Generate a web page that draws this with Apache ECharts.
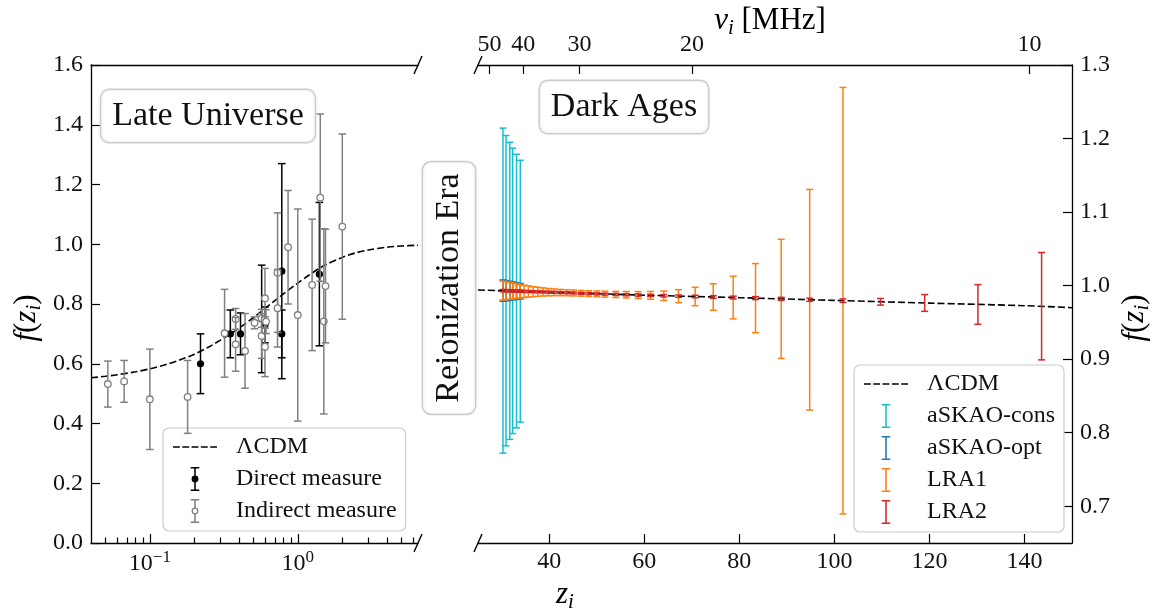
<!DOCTYPE html>
<html><head><meta charset="utf-8">
<script src="https://cdn.jsdelivr.net/npm/echarts@6/dist/echarts.min.js"></script>
<style>html,body{margin:0;padding:0;background:#fff}#c{width:1158px;height:614px}</style>
</head><body><div id="c"></div>
<script>
// ================= DATA =================
// Late-universe panel: LCDM growth-rate curve
const lcdmLateZ = [0.04,0.05,0.06,0.08,0.10,0.13,0.16,0.20,0.25,0.30,0.35,0.40,0.50,0.60,0.70,0.80,1.00,1.20,1.50,2.00,2.50,3.00,4.00,5.00,6.50];
const lcdmLateF = [0.553,0.558,0.563,0.573,0.583,0.598,0.613,0.632,0.656,0.679,0.700,0.719,0.754,0.785,0.811,0.834,0.870,0.898,0.928,0.956,0.972,0.981,0.990,0.994,0.997];
// Direct measures
const directZ   = [0.22,0.35,0.41,0.57,0.60,0.78,0.78,1.40];
const directF   = [0.60,0.70,0.70,0.75,0.73,0.91,0.70,0.90];
const directErr = [0.10,0.08,0.07,0.18,0.06,0.36,0.08,0.24];
// Indirect measures
const indirectZ   = [0.052,0.067,0.10,0.18,0.32,0.38,0.38,0.44,0.51,0.57,0.57,0.60,0.60,0.61,0.73,0.73,0.86,1.00,1.25,1.42,1.50,1.54,2.00];
const indirectF   = [0.532,0.541,0.481,0.489,0.702,0.750,0.665,0.643,0.737,0.752,0.693,0.819,0.657,0.741,0.905,0.786,0.990,0.763,0.864,1.156,0.742,0.860,1.059];
const indirectErr = [0.077,0.070,0.168,0.122,0.147,0.035,0.090,0.125,0.020,0.030,0.075,0.100,0.100,0.040,0.200,0.130,0.190,0.355,0.220,0.280,0.310,0.190,0.310];

// Dark-ages panel
const lcdmDarkZ = [25,40,60,80,100,120,140,150];
const lcdmDarkF = [0.9940,0.9911,0.9870,0.9836,0.9799,0.9762,0.9727,0.9700];
// frequency-bin redshifts and central values
const binZ = [30.25,30.9,31.7,32.3,33.1,33.9,34.7,35.6,36.6,37.6,38.7,39.8,41.0,42.3,43.7,45.1,46.7,48.3,50.0,51.7,54.0,56.2,58.7,61.3,64.1,67.2,70.7,74.5,78.7,83.4,88.8,94.8,101.8,109.7,119.0,130.2,143.6];
const binF = [0.9932,0.9931,0.9929,0.9928,0.9926,0.9924,0.9922,0.9920,0.9918,0.9916,0.9914,0.9911,0.9909,0.9906,0.9903,0.9900,0.9896,0.9892,0.9888,0.9884,0.9880,0.9876,0.9872,0.9867,0.9862,0.9857,0.9852,0.9845,0.9838,0.9830,0.9820,0.9808,0.9795,0.9780,0.9764,0.9744,0.9720];
const askaoConsErr = [0.221,0.211,0.202,0.194,0.186,0.178];
const askaoOptErr  = [0.0145,0.0138,0.0130,0.0122,0.0114,0.0106];
const lra1Err = [0.0128,0.0121,0.0113,0.0106,0.0099,0.0092,0.0084,0.0076,0.0068,0.0061,0.0055,0.0050,0.0046,0.0043,0.0041,0.0040,0.0039,0.0039,0.0040,0.0041,0.0042,0.0044,0.0047,0.0053,0.0064,0.0088,0.0125,0.018,0.029,0.047,0.081,0.150,0.290];
const lra2Err = [0.0015,0.0015,0.0015,0.0015,0.0015,0.0015,0.0013,0.0013,0.0013,0.0013,0.0013,0.0013,0.0013,0.0013,0.0013,0.0013,0.0013,0.0013,0.0013,0.0013,0.0014,0.0014,0.0015,0.0015,0.0016,0.0016,0.0017,0.0018,0.0019,0.0020,0.0021,0.0022,0.0024,0.0045,0.0114,0.027,0.073];

// tick labels
const leftYTicks   = [0,0.2,0.4,0.6,0.8,1.0,1.2,1.4,1.6];
const leftXMajor   = [0.1,1];
const leftXMinor   = [0.05,0.06,0.07,0.08,0.09,0.2,0.3,0.4,0.5,0.6,0.7,0.8,0.9,2,3,4,5,6];
const rightXTicks  = [40,60,80,100,120,140];
const rightYTicks  = [0.7,0.8,0.9,1.0,1.1,1.2,1.3];
const nuTicks      = [50,40,30,20,10];
const NU21 = 1420.4;
const nuTickZ = nuTicks.map(n => NU21 / n - 1);

// ================= CHART =================
const FONT = "'Liberation Serif','DejaVu Serif',serif";
const INK = '#111';
const chart = echarts.init(document.getElementById('c'), null, {renderer: 'canvas'});

function zip3(a, b, c, n) { const out = []; for (let i = 0; i < (n || a.length); i++) out.push([a[i], b[i], c[i]]); return out; }
function zip2(a, b) { return a.map((v, i) => [v, b[i]]); }

function errRender(o) {
  return function (params, api) {
    const x = api.value(0), y = api.value(1), e = api.value(2);
    const c = api.coord([x, y]);
    const t = api.coord([x, y + e]);
    const b = api.coord([x, y - e]);
    const st = {stroke: o.color, lineWidth: o.lw, fill: null};
    const ch = [
      {type: 'line', shape: {x1: c[0], y1: t[1], x2: c[0], y2: b[1]}, style: st},
      {type: 'line', shape: {x1: c[0] - o.cap, y1: t[1], x2: c[0] + o.cap, y2: t[1]}, style: st},
      {type: 'line', shape: {x1: c[0] - o.cap, y1: b[1], x2: c[0] + o.cap, y2: b[1]}, style: st}
    ];
    if (o.marker === 'filled') ch.push({type: 'circle', shape: {cx: c[0], cy: c[1], r: o.r}, style: {fill: o.color}});
    if (o.marker === 'hollow') ch.push({type: 'circle', shape: {cx: c[0], cy: c[1], r: o.r}, style: {fill: '#fff', stroke: o.color, lineWidth: 1.3}});
    return {type: 'group', children: ch};
  };
}

const ICON_DASH = 'path://M0 0H7V1.6H0Z M9.5 0H16.5V1.6H9.5Z M19 0H26V1.6H19Z M28.5 0H35.5V1.6H28.5Z M38 0H45V1.6H38Z';
const ICON_BAR = 'path://M0 0H10V1.8H5.9V26.2H10V28H0V26.2H4.1V1.8H0Z';
const ICON_DIRECT = ICON_BAR + ' M9 14A4 4 0 1 1 1 14A4 4 0 1 1 9 14Z';
const ICON_INDIRECT = 'path://M0 0H10V1.8H5.9V10H4.1V1.8H0Z M4.1 18H5.9V26.2H10V28H0V26.2H4.1Z M9 14A4 4 0 1 1 1 14A4 4 0 1 1 9 14Z M7.5 14A2.5 2.5 0 1 0 2.5 14A2.5 2.5 0 1 0 7.5 14Z';

const axLine = {show: true, onZero: false, lineStyle: {color: '#000', width: 1.3}};
const tickStyle = {color: '#000', width: 1.2};
const lblBase = {color: INK, fontFamily: FONT, fontSize: 24};
const nameRich = {
  it: {fontFamily: FONT, fontStyle: 'italic', fontSize: 31, color: INK, lineHeight: 36},
  r: {fontFamily: FONT, fontSize: 31, color: INK, lineHeight: 36},
  sub: {fontFamily: FONT, fontStyle: 'italic', fontSize: 21, color: INK, lineHeight: 24, verticalAlign: 'bottom'}
};
const fzName = '{it|f}{r|(}{it|z}{sub|i}{r|)}';
const supFmt = v => { const p = Math.round(Math.log10(v)); return '{b|10}{s|' + (p < 0 ? '\u2212' + (-p) : p) + '}'; };

const legendCommon = {
  orient: 'vertical', itemWidth: 44, itemHeight: 24, itemGap: 8,
  padding: [7, 9, 8, 10], backgroundColor: 'rgba(255,255,255,0.8)',
  borderColor: '#cccccc', borderWidth: 1.2, borderRadius: 6, selectedMode: false,
  textStyle: {fontFamily: FONT, fontSize: 24, color: INK, padding: [0, 0, 0, 14]}
};

const option = {
  animation: false,
  backgroundColor: '#fff',
  grid: [
    {left: 91, top: 65, width: 327, height: 478, outerBoundsMode: 'none', containLabel: false},
    {left: 478, top: 65, width: 594, height: 478, outerBoundsMode: 'none', containLabel: false}
  ],
  xAxis: [
    {type: 'log', gridIndex: 0, position: 'bottom', min: 0.04, max: 6.5, axisLine: axLine,
     axisTick: {show: true, inside: true, length: 9, lineStyle: tickStyle, customValues: leftXMajor},
     axisLabel: {customValues: leftXMajor, formatter: supFmt, margin: 6, color: INK,
       rich: {b: {fontFamily: FONT, fontSize: 24, color: INK, lineHeight: 30},
              s: {fontFamily: FONT, fontSize: 17, color: INK, lineHeight: 16, verticalAlign: 'top'}}},
     splitLine: {show: false}},
    {type: 'log', gridIndex: 0, position: 'bottom', min: 0.04, max: 6.5, axisLine: {show: false},
     axisTick: {show: true, inside: true, length: 5.5, lineStyle: tickStyle, customValues: leftXMinor},
     axisLabel: {show: false}, splitLine: {show: false}},
    {type: 'log', gridIndex: 0, position: 'top', min: 0.04, max: 6.5, axisLine: axLine,
     axisTick: {show: false}, axisLabel: {show: false}, splitLine: {show: false}},
    {type: 'value', gridIndex: 1, position: 'bottom', min: 25, max: 150, axisLine: axLine,
     axisTick: {show: true, inside: true, length: 9, lineStyle: tickStyle, customValues: rightXTicks},
     axisLabel: Object.assign({customValues: rightXTicks, margin: 7}, lblBase), splitLine: {show: false}},
    {type: 'value', gridIndex: 1, position: 'top', min: 25, max: 150, axisLine: axLine,
     axisTick: {show: true, inside: true, length: 9, lineStyle: tickStyle, customValues: nuTickZ},
     axisLabel: Object.assign({customValues: nuTickZ, margin: 8, formatter: v => String(Math.round(NU21 / (v + 1)))}, lblBase),
     splitLine: {show: false}}
  ],
  yAxis: [
    {type: 'value', gridIndex: 0, position: 'left', min: 0, max: 1.6, interval: 0.2, axisLine: axLine,
     axisTick: {show: true, inside: true, length: 9, lineStyle: tickStyle},
     axisLabel: Object.assign({margin: 8, formatter: v => v.toFixed(1)}, lblBase), splitLine: {show: false}},
    {type: 'value', gridIndex: 1, position: 'right', min: 0.65, max: 1.3, axisLine: axLine,
     axisTick: {show: true, inside: true, length: 9, lineStyle: tickStyle, customValues: rightYTicks},
     axisLabel: Object.assign({customValues: rightYTicks, margin: 8, formatter: v => v.toFixed(1)}, lblBase),
     splitLine: {show: false}}
  ],
  legend: [
    Object.assign({left: 163, top: 428, data: [
      {name: '\u039bCDM', icon: ICON_DASH}, {name: 'Direct measure', icon: ICON_DIRECT}, {name: 'Indirect measure', icon: ICON_INDIRECT}]}, legendCommon),
    Object.assign({left: 854, top: 365, data: [
      {name: '\u039bCDM', icon: ICON_DASH}, {name: 'aSKAO-cons', icon: ICON_BAR}, {name: 'aSKAO-opt', icon: ICON_BAR},
      {name: 'LRA1', icon: ICON_BAR}, {name: 'LRA2', icon: ICON_BAR}]}, legendCommon)
  ],
  series: [
    {type: 'line', name: '\u039bCDM', xAxisIndex: 0, yAxisIndex: 0, data: zip2(lcdmLateZ, lcdmLateF),
     symbol: 'none', smooth: 0.3, lineStyle: {color: '#000', width: 1.6, type: [7, 3]}, itemStyle: {color: '#000'}, z: 3},
    {type: 'custom', name: 'Direct measure', xAxisIndex: 0, yAxisIndex: 0, data: zip3(directZ, directF, directErr),
     encode: {x: 0, y: 1}, itemStyle: {color: '#000'}, z: 4,
     renderItem: errRender({color: '#000', lw: 1.5, cap: 3.8, marker: 'filled', r: 3.6})},
    {type: 'custom', name: 'Indirect measure', xAxisIndex: 0, yAxisIndex: 0, data: zip3(indirectZ, indirectF, indirectErr),
     encode: {x: 0, y: 1}, itemStyle: {color: '#808080'}, z: 5,
     renderItem: errRender({color: '#808080', lw: 1.5, cap: 3.8, marker: 'hollow', r: 3.3})},
    {type: 'line', name: '\u039bCDM', xAxisIndex: 3, yAxisIndex: 1, data: zip2(lcdmDarkZ, lcdmDarkF),
     symbol: 'none', smooth: 0.3, lineStyle: {color: '#000', width: 1.6, type: [7, 3]}, itemStyle: {color: '#000'}, z: 5},
    {type: 'custom', name: 'aSKAO-cons', xAxisIndex: 3, yAxisIndex: 1, data: zip3(binZ, binF, askaoConsErr, askaoConsErr.length),
     encode: {x: 0, y: 1}, itemStyle: {color: '#17becf'}, z: 3,
     renderItem: errRender({color: '#17becf', lw: 1.5, cap: 3.5})},
    {type: 'custom', name: 'aSKAO-opt', xAxisIndex: 3, yAxisIndex: 1, data: zip3(binZ, binF, askaoOptErr, askaoOptErr.length),
     encode: {x: 0, y: 1}, itemStyle: {color: '#1f77b4'}, z: 3,
     renderItem: errRender({color: '#1f77b4', lw: 1.5, cap: 3.5})},
    {type: 'custom', name: 'LRA1', xAxisIndex: 3, yAxisIndex: 1, data: zip3(binZ, binF, lra1Err, lra1Err.length),
     encode: {x: 0, y: 1}, itemStyle: {color: '#ff7f0e'}, z: 4,
     renderItem: errRender({color: '#ff7f0e', lw: 1.5, cap: 3.5})},
    {type: 'custom', name: 'LRA2', xAxisIndex: 3, yAxisIndex: 1, data: zip3(binZ, binF, lra2Err, lra2Err.length),
     encode: {x: 0, y: 1}, itemStyle: {color: '#d62728'}, z: 6,
     renderItem: errRender({color: '#d62728', lw: 1.5, cap: 3.5})}
  ]
};
chart.setOption(option);

// ---- annotations: text boxes, break marks, axis titles ----
const boxStyle = (t) => ({text: t, align: 'center', verticalAlign: 'middle', fontFamily: FONT, fontSize: 34, fill: INK,
  backgroundColor: 'rgba(255,255,255,0.8)', borderColor: '#cccccc', borderWidth: 1.5, borderRadius: 8, padding: [9, 11, 9, 11]});
const pLT = chart.convertToPixel({xAxisIndex: 0, yAxisIndex: 0}, [6.5, 1.6]);
const pLB = chart.convertToPixel({xAxisIndex: 0, yAxisIndex: 0}, [6.5, 0]);
const pRT = chart.convertToPixel({xAxisIndex: 3, yAxisIndex: 1}, [25, 1.3]);
const pRB = chart.convertToPixel({xAxisIndex: 3, yAxisIndex: 1}, [25, 0.65]);
const brk = p => ({type: 'line', shape: {x1: p[0] - 4, y1: p[1] + 9, x2: p[0] + 4, y2: p[1] - 9}, style: {stroke: '#000', lineWidth: 1.4}, z: 20});
const titleText = (txt) => ({text: txt, align: 'center', verticalAlign: 'middle', rich: nameRich});
chart.setOption({graphic: [
  {type: 'text', x: 208, y: 116, z: 10, style: boxStyle('Late Universe')},
  {type: 'text', x: 624, y: 107, z: 10, style: boxStyle('Dark Ages')},
  {type: 'text', x: 449, y: 288, rotation: Math.PI / 2, z: 10, style: boxStyle('Reionization Era')},
  brk(pLT), brk(pLB), brk(pRT), brk(pRB),
  {type: 'text', x: 565, y: 595, z: 10, style: titleText('{it|z}{sub|i}')},
  {type: 'text', x: 770, y: 21, z: 10, style: titleText('{it|\u03bd}{sub|i}{r| [MHz]}')},
  {type: 'text', x: 27, y: 318, rotation: Math.PI / 2, z: 10, style: titleText(fzName)},
  {type: 'text', x: 1135, y: 318, rotation: Math.PI / 2, z: 10, style: titleText(fzName)}
]});
</script>
</body></html>
